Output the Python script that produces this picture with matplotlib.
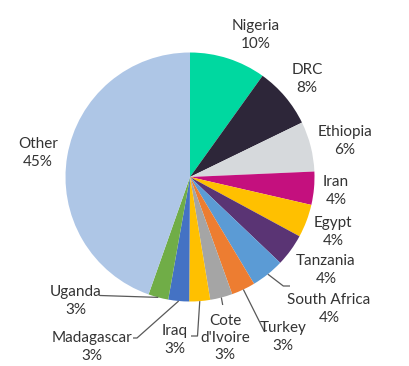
import numpy as np
import matplotlib
matplotlib.use("Agg")
import matplotlib.pyplot as plt

# ---- data ----
countries = ["Nigeria", "DRC", "Ethiopia", "Iran", "Egypt", "Tanzania",
             "South Africa", "Turkey", "Cote\nd'Ivoire", "Iraq", "Madagascar",
             "Uganda", "Other"]
shares = [9.9, 7.9, 6.5, 4.3, 4.3, 4.2, 4.3, 3.1, 2.9, 2.7, 2.7, 2.6, 44.6]
colors = ["#00D8A0", "#2D2639", "#D6D9DC", "#C4107E", "#FFC000", "#5A3474",
          "#5B9BD5", "#ED7D31", "#A5A5A5", "#FFC000", "#4472C4", "#70AD47",
          "#AEC6E6"]
pct_labels = ["10%", "8%", "6%", "4%", "4%", "4%", "4%", "3%", "3%", "3%",
              "3%", "3%", "45%"]

# ---- layout (pixel coordinates, y from top) ----
W, H = 410, 366
cx, cy, R = 190, 177, 124.5
label_pos = {
    0: (256, 35), 1: (307, 79), 2: (345, 141), 3: (336, 191), 4: (333, 232),
    5: (326, 270), 6: (329, 309), 7: (283, 337), 8: (225, 338), 9: (175, 340),
    10: (92, 347), 11: (76, 301), 12: (38, 153),
}
# leader line: elbow point(s) after the wedge edge point
leaders = {
    11: [(100, 295.5)],
    10: [(137, 338), (133, 338)],
    9: [(197.5, 336), (191, 336)],
    8: [(222.7, 305)],
    7: [(264, 330.7), (267, 330.7)],
    6: [(283.3, 286), (290, 286)],
}

fig = plt.figure(figsize=(W / 100, H / 100), dpi=100)
ax = fig.add_axes([0, 0, 1, 1])

wedges, _ = ax.pie(shares, colors=colors, startangle=90, counterclock=False,
                   center=(cx, H - cy), radius=R,
                   wedgeprops=dict(linewidth=0))
ax.set_xlim(0, W)
ax.set_ylim(0, H)
ax.set_aspect("equal")
ax.axis("off")

txtcol = "#333333"
for i, (name, pct) in enumerate(zip(countries, pct_labels)):
    x, y = label_pos[i]
    ax.text(x, H - y, f"{name}\n{pct}", ha="center", va="center",
            fontsize=11, family=["Lato", "DejaVu Sans"], color=txtcol,
            linespacing=1.28)

for i, pts in leaders.items():
    w = wedges[i]
    mid = np.deg2rad((w.theta1 + w.theta2) / 2)
    sx = w.center[0] + w.r * np.cos(mid)
    sy = w.center[1] + w.r * np.sin(mid)
    xs = [sx] + [p[0] for p in pts]
    ys = [sy] + [H - p[1] for p in pts]
    ax.plot(xs, ys, color="#595959", lw=0.9, solid_capstyle="butt")

fig.savefig("out.png", dpi=100)
